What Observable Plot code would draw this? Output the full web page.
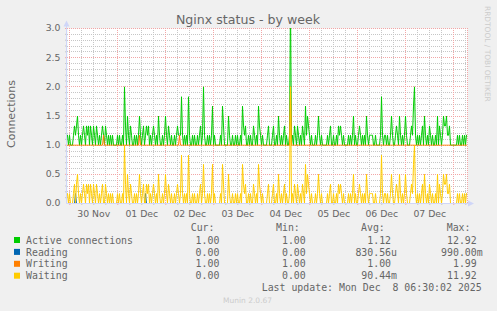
<!DOCTYPE html>
<html><head><meta charset="utf-8">
<script src="https://cdn.jsdelivr.net/npm/d3@7"></script>
<script src="https://cdn.jsdelivr.net/npm/@observablehq/plot@0.6"></script>
<style>
html,body{margin:0;padding:0;background:#f0f0f0;}
#chart{width:497px;height:311px;overflow:hidden;}
</style></head><body><div id="chart"></div>
<script>
const seriesNames = ["Active connections","Reading","Writing","Waiting"];
const seriesColors = ["#00cc00","#0066b3","#ff8000","#ffcc00"];
const legendCur = ["1.00","0.00","1.00","0.00"];
const legendMin = ["1.00","0.00","1.00","0.00"];
const legendAvg = ["1.12","830.56u","1.00","90.44m"];
const legendMax = ["12.92","990.00m","1.99","11.92"];
const dayTicks = ["2025-11-30T12:00Z","2025-12-01T12:00Z","2025-12-02T12:00Z","2025-12-03T12:00Z","2025-12-04T12:00Z","2025-12-05T12:00Z","2025-12-06T12:00Z","2025-12-07T12:00Z"];
const yTicks = [0,0.5,1,1.5,2,2.5,3];
const startTime = "2025-11-29T22:51Z";
const stepMinutes = 30;

const active = [
1.17,1,1.17,1,1,1,1.17,1.33,1.17,1.33, 1.5,1.17,1,1.17,1,1.17,1.33,1.17,1,1.33,
1.17,1.33,1,1.33,1.17,1,1.33,1.17,1,1.33, 1.17,1,1.17,1,1.17,1.33,1.17,1,1.33,1.17,
1,1.17,1,1.17,1,1.17,1,1,1,1, 1.17,1,1.17,1,1,1.17,1,2,1.33,1,
1.5,1.17,1,1.33,1.17,1,1,1.17,1,1.17, 1,1.17,1.5,1.17,1,1.17,1.33,1,1.17,1.33,
1.17,1.33,1,1.17,1,1.17,1.33,1.17,1,1.17, 1,1.5,1.17,1,1,1.17,1,1.17,1.5,1.17,
1,1.33,1.17,1,1.17,1,1,1.17,1,1.17, 1.33,1.17,1.17,1.17,1.83,1.17,1,1.17,1,1.17,
1,1.83,1.17,1,1,1.17,1,1.17,1,1, 1.17,1,1.17,1.33,1,1.17,2,1.17,1,1,
1.17,1,1.17,1,1.17,1.67,1,1.17,1,1, 1,1,1,1.17,1,1.67,1.33,1,1,1,
1,1.5,1.17,1,1,1.17,1,1,1.17,1, 1.17,1,1,1.17,1,1.67,1.33,1.17,1.33,1,
1,1.17,1,1.17,1,1,1.33,1.17,1,1.17, 1,1.67,1.33,1.17,1,1.17,1,1,1,1,
1.17,1.33,1,1,1,1.17,1.33,1,1,1.17, 1,1.5,1.17,1,1.17,1,1.17,1.33,1,1.17,
1,1,1.17,3.5,1,1.17,1,1.33,1.17,1, 1.33,1.17,1,1.17,1,1.33,1.17,1,1.67,1.17,
1.5,1.33,1.17,1,1.17,1,1,1,1.17,1, 1.17,1.5,1.17,1,1.17,1,1,1,1,1,
1.17,1,1.17,1.33,1,1,1.17,1,1,1.17, 1,1.33,1.17,1.33,1.17,1,1.17,1,1,1,
1,1.17,1,1.17,1,1.17,1.5,1,1.17,1, 1,1.17,1.33,1.17,1,1.17,1,1.17,1,1.5,
1.17,1,1.17,1.17,1.17,1.17,1,1,1.17,1, 1,1,1,1.17,1.83,1.17,1,1.17,1.17,1,
1.17,1,1,1.17,1.5,1.17,1,1,1.17,1.33, 1.17,1,1.5,1.17,1,1.17,1,1.17,1.5,1.17,
1,1,1,1.17,1.33,1.17,1.67,2,1.17,1, 1.17,1,1.17,1,1.17,1.33,1,1.5,1.17,1,
1.17,1,1.33,1.17,1,1.17,1,1,1.17,1, 1.5,1,1.33,1.17,1,1.17,1.5,1.33,1.33,1.5,
1.17,1.17,1.33,1,1,1,1,1,1,1, 1.17,1,1.17,1,1,1.17,1,1.17,1,1.17
];
const reading = [
0,0,0,0,0,0,0,0,0.17,0, 0,0,0,0,0,0,0,0,0,0,
0,0,0,0,0,0,0,0,0,0, 0,0,0,0,0,0,0,0,0,0,
0,0,0,0,0,0,0,0,0,0, 0,0,0,0,0,0,0,0,0,0,
0,0,0,0,0,0,0,0,0,0, 0,0,0,0,0,0,0,0,0.17,0,
0,0,0,0,0,0,0,0,0,0, 0,0,0,0,0,0,0,0,0,0,
0,0,0,0,0,0,0,0,0,0, 0,0,0,0,0,0,0,0,0,0,
0,0,0,0,0,0,0,0,0,0, 0,0,0,0,0,0,0,0,0,0,
0,0,0,0,0,0,0,0,0,0, 0,0,0,0,0,0,0,0,0,0,
0,0,0,0,0,0,0,0,0,0, 0,0,0,0,0,0,0,0,0,0,
0,0,0,0,0,0,0,0,0,0, 0,0,0,0,0,0,0,0,0,0,
0,0,0,0,0,0,0,0,0,0, 0,0,0,0,0,0,0,0,0,0,
0,0,0,0,0,0,0,0,0,0, 0,0,0,0,0,0,0,0,0,0,
0,0,0,0,0,0,0,0,0,0, 0,0,0,0,0,0,0,0,0,0,
0,0,0,0,0,0,0,0,0,0, 0,0,0,0,0,0,0,0,0,0,
0,0,0,0,0,0,0,0,0,0, 0,0,0,0,0,0,0,0,0,0,
0,0,0,0,0,0,0,0,0,0, 0,0,0,0,0,0,0,0,0,0,
0,0,0,0,0,0,0,0,0,0, 0,0,0,0,0,0,0,0,0,0,
0,0,0,0,0,0,0,0,0,0, 0,0,0,0,0,0,0,0,0,0,
0,0,0,0,0,0,0,0,0,0, 0,0,0,0,0,0,0,0,0,0,
0,0,0,0,0,0,0,0,0,0, 0,0,0,0,0,0,0,0,0,0
];
const writing = [
1,1,1,1,1,1,1,1,1,1, 1,1,1,1,1,1,1,1,1,1,
1,1,1,1,1,1,1,1,1,1, 1,1,1,1,1,1,1.17,1,1,1,
1,1,1,1,1,1,1,1,1,1, 1,1,1,1,1,1,1,1,1,1,
1,1,1,1,1,1,1,1,1,1, 1,1,1.17,1,1,1,1,1,1,1,
1,1,1,1,1,1,1,1,1,1, 1,1,1,1,1,1,1,1,1,1,
1,1,1,1,1,1,1,1,1,1, 1,1,1.17,1,1,1,1,1,1,1,
1,1,1,1,1,1,1,1,1,1, 1,1,1,1,1,1,1,1,1,1,
1,1,1,1,1,1,1,1,1,1, 1,1,1,1,1,1,1,1,1,1,
1,1,1,1,1,1,1,1,1,1, 1,1,1,1,1,1,1,1,1,1,
1,1,1,1,1,1,1,1,1,1, 1,1,1,1,1,1,1,1,1,1,
1,1,1,1,1,1,1,1,1,1, 1,1,1,1,1,1,1,1,1,1,
1,1,1,2,1,1,1,1,1,1, 1,1,1,1,1,1,1,1,1,1,
1,1,1,1,1,1,1,1,1,1, 1,1,1,1,1,1,1,1,1,1,
1,1,1,1,1,1,1,1,1,1, 1,1,1,1,1,1,1,1,1,1,
1,1,1,1,1,1,1,1,1,1, 1,1,1,1,1,1,1,1,1,1,
1,1,1,1,1,1,1,1,1,1, 1,1,1,1,1,1,1,1,1,1,
1,1,1,1,1,1,1,1,1,1, 1,1,1,1,1,1,1,1,1,1,
1,1,1,1,1,1,1,1,1,1, 1,1,1,1,1,1,1,1,1,1,
1,1,1,1,1,1,1,1,1,1, 1,1,1,1,1,1,1,1,1,1,
1,1,1,1,1,1,1,1,1,1, 1,1,1,1,1,1,1,1,1,1
];
const waiting = [
0.17,0,0.17,0,0,0,0.17,0.33,0,0.33, 0.5,0.17,0,0.17,0,0.17,0.33,0.17,0,0.33,
0.17,0.33,0,0.33,0.17,0,0.33,0.17,0,0.33, 0.17,0,0.17,0,0.17,0.33,0,0,0.33,0.17,
0,0.17,0,0.17,0,0.17,0,0,0,0, 0.17,0,0.17,0,0,0.17,0,1,0.33,0,
0.5,0.17,0,0.33,0.17,0,0,0.17,0,0.17, 0,0.17,0.5,0.17,0,0.17,0.33,0,0,0.33,
0.17,0.33,0,0.17,0,0.17,0.33,0.17,0,0.17, 0,0.5,0.17,0,0,0.17,0,0.17,0.5,0.17,
0,0.33,0.17,0,0.17,0,0,0.17,0,0.17, 0.33,0.17,0,0.17,0.83,0.17,0,0.17,0,0.17,
0,0.83,0.17,0,0,0.17,0,0.17,0,0, 0.17,0,0.17,0.33,0,0.17,0.67,0.17,0,0,
0.17,0,0.17,0,0.17,0.67,0,0.17,0,0, 0,0,0,0.17,0,0.67,0.33,0,0,0,
0,0.5,0.17,0,0,0.17,0,0,0.17,0, 0.17,0,0,0.17,0,0.67,0.33,0.17,0.33,0,
0,0.17,0,0.17,0,0,0.33,0.17,0,0.17, 0,0.67,0.33,0.17,0,0.17,0,0,0,0,
0.17,0.33,0,0,0,0.17,0.33,0,0,0.17, 0,0.5,0.17,0,0.17,0,0.17,0.33,0,0.17,
0,0,0.17,2,0,0.17,0,0.33,0.17,0, 0.33,0.17,0,0.17,0,0.33,0.17,0,0.67,0.17,
0.5,0.33,0.17,0,0.17,0,0,0,0.17,0, 0.17,0.5,0.17,0,0.17,0,0,0,0,0,
0.17,0,0.17,0.33,0,0,0.17,0,0,0.17, 0,0.33,0.17,0.33,0.17,0,0.17,0,0,0,
0,0.17,0,0.17,0,0.17,0.5,0,0.17,0, 0,0.17,0.33,0.17,0,0.17,0,0.17,0,0.5,
0.17,0,0.17,0.17,0.17,0.17,0,0,0.17,0, 0,0,0,0.17,0.83,0.17,0,0.17,0.17,0,
0.17,0,0,0.17,0.5,0.17,0,0,0.17,0.33, 0.17,0,0.5,0.17,0,0.17,0,0.17,0.5,0.17,
0,0,0,0.17,0.33,0.17,0.67,1,0.17,0, 0.17,0,0.17,0,0.17,0.33,0,0.5,0.17,0,
0.17,0,0.33,0.17,0,0.17,0,0,0.17,0, 0.5,0,0.33,0.17,0,0.17,0.5,0.33,0.33,0.5,
0.17,0.17,0.33,0,0,0,0,0,0,0, 0.17,0,0.17,0,0,0.17,0,0.17,0,0.17
];
const seriesValues = [active, reading, writing, waiting];

const t0 = +new Date(startTime);
const STEP = stepMinutes * 60 * 1000;
const times = active.map((_, i) => new Date(t0 + i * STEP));
const tEnd = new Date(t0 + active.length * STEP);
const dayDates = dayTicks.map(d => new Date(d));
const majorX = d3.utcDay.range(new Date(t0), tEnd);
const minorX = d3.utcHour.every(6).range(new Date(t0), tEnd).filter(d => d.getUTCHours() !== 0);
const majorY = [0.5,1,1.5,2,2.5,3];
const minorY = d3.range(1, 30).filter(k => k % 5 !== 0).map(k => k / 10);

const GRID = "#c6c6c6", MGRID = "#f2a6a6", AXIS = "#cfd6f8", FONT = "#666666";

const chart = Plot.plot({
  width: 497, height: 311,
  marginLeft: 67, marginRight: 30, marginTop: 28, marginBottom: 108,
  style: {background: "transparent", fontFamily: "DejaVu Sans", fontSize: "9.3px", color: FONT, overflow: "visible"},
  x: {type: "utc", domain: [new Date(t0), tEnd], axis: null},
  y: {domain: [0, 3], axis: null},
  marks: [
    Plot.frame({fill: "white", stroke: "none"}),
    Plot.ruleY(minorY, {stroke: GRID, strokeDasharray: "1,1", shapeRendering: "crispEdges"}),
    Plot.ruleX(minorX, {stroke: GRID, strokeDasharray: "1,1", shapeRendering: "crispEdges"}),
    Plot.ruleY(majorY, {stroke: MGRID, strokeDasharray: "1,1", shapeRendering: "crispEdges"}),
    Plot.ruleX(majorX, {stroke: MGRID, strokeDasharray: "1,1", shapeRendering: "crispEdges"}),
    Plot.ruleX([tEnd], {stroke: MGRID, strokeDasharray: "1,1", shapeRendering: "crispEdges"}),
    Plot.axisY(minorY, {tickSize: 2, fill: "none", stroke: GRID, tickFormat: null}),
    Plot.axisY(majorY, {tickSize: 2, fill: "none", stroke: MGRID, tickFormat: null}),
    Plot.axisX(minorX, {tickSize: 2, fill: "none", stroke: GRID, tickFormat: null}),
    Plot.axisX(majorX, {tickSize: 2, fill: "none", stroke: MGRID, tickFormat: null}),
    ...seriesValues.map((vals, k) => Plot.line(vals, {
      x: (d, i) => times[i], y: d => d, stroke: seriesColors[k], strokeWidth: 1, clip: true
    })),
    Plot.axisY(yTicks, {tickFormat: d3.format(".1f"), tickSize: 0, tickPadding: 7, fill: FONT, fontSize: 9.3}),
    Plot.axisX(dayDates, {tickFormat: d3.utcFormat("%d %b"), tickSize: 0, tickPadding: 7, fill: FONT, fontSize: 9.3})
  ]
});

document.getElementById("chart").appendChild(chart);
const svg = d3.select(chart);
const addText = (x, y, txt, opts = {}) => svg.append("text")
  .attr("x", x).attr("y", y)
  .attr("text-anchor", opts.anchor || "start")
  .attr("font-family", opts.family || "DejaVu Sans")
  .attr("font-size", opts.size || 9.3)
  .attr("fill", opts.fill || FONT)
  .attr("transform", opts.transform || null)
  .style("white-space", "pre")
  .text(txt);

// axis lines and arrows
svg.append("line").attr("x1", 66.5).attr("x2", 66.5).attr("y1", 23).attr("y2", 203.5).attr("stroke", AXIS);
svg.append("line").attr("x1", 66.5).attr("x2", 470).attr("y1", 203.5).attr("y2", 203.5).attr("stroke", AXIS);
svg.append("path").attr("d", "M63.5,26.5 L66.5,20.5 L69.5,26.5 Z").attr("fill", AXIS);
svg.append("path").attr("d", "M468,200.5 L474,203.5 L468,206.5 Z").attr("fill", AXIS);

// title, axis label, watermark
addText(248, 23.5, "Nginx status - by week", {anchor: "middle", size: 12.6});
addText(0, 0, "Connections", {anchor: "middle", size: 11, transform: "translate(15,114) rotate(-90)"});
addText(0, 0, "RRDTOOL / TOBI OETIKER", {size: 7.45, fill: "#cccccc", transform: "translate(485,6) rotate(90)"});

// legend
const MONO = "DejaVu Sans Mono", MS = 9.9;
const headers = [["Cur:", 190.7], ["Min:", 276], ["Avg:", 361], ["Max:", 446.7]];
headers.forEach(([t, x]) => addText(x, 231.3, t, {family: MONO, size: MS}));
const colEnds = [225.3, 311.7, 397, 482.7];
const cols = [legendCur, legendMin, legendAvg, legendMax];
seriesNames.forEach((name, k) => {
  const by = 243.7 + k * 11.85;
  svg.append("rect").attr("x", 14).attr("y", 237 + k * 11.9).attr("width", 6).attr("height", 6).attr("fill", seriesColors[k]);
  addText(26, by, name, {family: MONO, size: MS});
  cols.forEach((col, c) => {
    const v = col[k];
    const s = /[a-z]$/i.test(v) ? v : v + "\u00a0";
    addText(colEnds[c], by, s, {family: MONO, size: MS, anchor: "end"});
  });
});
addText(261.7, 291.3, "Last update: Mon Dec  8 06:30:02 2025", {family: MONO, size: MS});
addText(223, 302.5, "Munin 2.0.67", {size: 7.5, fill: "#cccccc"});
</script></body></html>
